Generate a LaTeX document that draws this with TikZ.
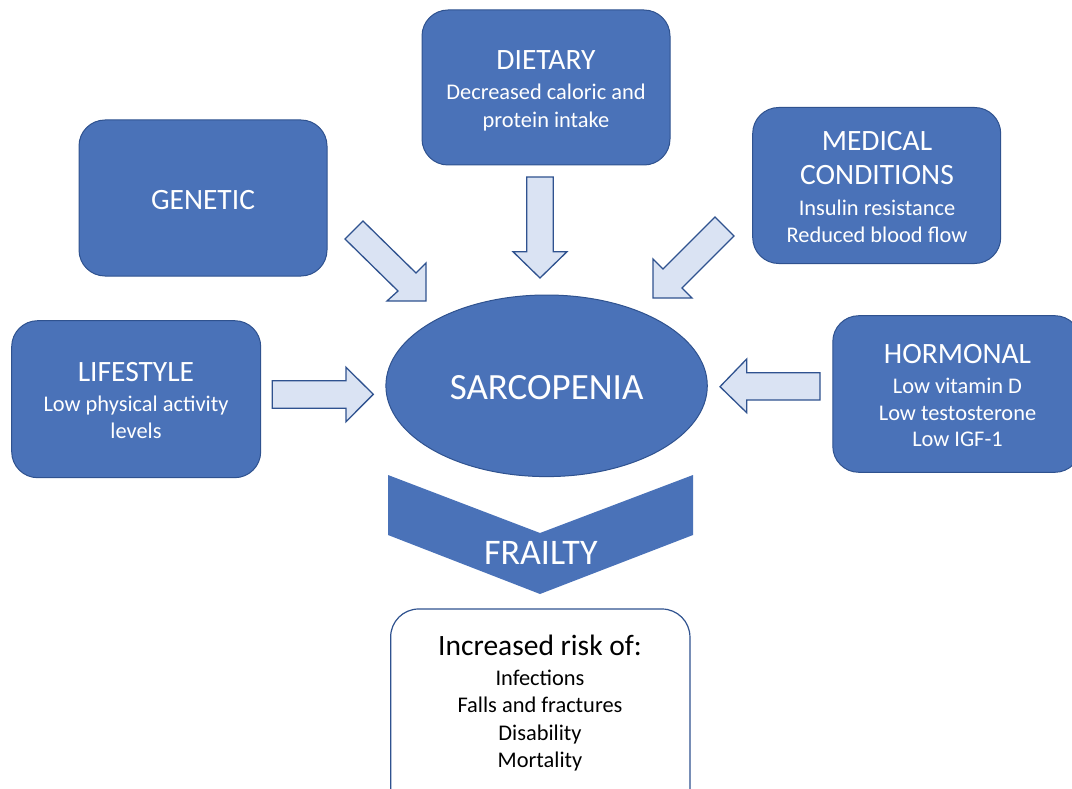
\documentclass[tikz,border=0pt]{standalone}
\usepackage{fontspec}
\setmainfont{Carlito}
\usetikzlibrary{shapes.geometric}
\definecolor{boxblue}{HTML}{4A72B8}
\definecolor{boxline}{HTML}{2F528F}
\definecolor{arrowfill}{HTML}{DAE3F3}
\tikzset{
  factorbox/.style={rectangle, rounded corners=26pt, fill=boxblue, draw=boxline, line width=1pt, inner sep=0pt},
  ttl/.style={anchor=base, inner sep=0pt, text=white, font=\fontsize{29.5}{35}\selectfont},
  subt/.style={anchor=base, inner sep=0pt, text=white, font=\fontsize{22.4}{27}\selectfont},
  blk/.style={anchor=base, inner sep=0pt, text=black, font=\fontsize{22.4}{27}\selectfont},
  blockarrow/.style={fill=arrowfill, draw=boxline, line width=1.3pt, line join=miter},
}
\begin{document}
\begin{tikzpicture}[x=1pt,y=-1pt]
\path[use as bounding box] (0,0) rectangle (1072,789);
\clip (0,0) rectangle (1072,789);

% factor boxes
\node[factorbox, minimum width=248pt, minimum height=155pt] (dietary) at (546,87.5) {};
\node[factorbox, minimum width=248pt, minimum height=156pt] (genetic) at (203,198) {};
\node[factorbox, minimum width=248pt, minimum height=156pt] (medical) at (876.7,185.5) {};
\node[factorbox, minimum width=249pt, minimum height=157pt] (lifestyle) at (136.2,399.2) {};
\node[factorbox, minimum width=248pt, minimum height=156.6pt] (hormonal) at (956.8,394) {};

% central ellipse
\node[ellipse, fill=boxblue, draw=boxline, line width=1pt, inner sep=0pt,
      minimum width=321.4pt, minimum height=181.6pt] (sarc) at (546.6,385.8) {};

% texts
\node[ttl] (dt1) at (546,70) {DIETARY};
\node[subt] (dt2) at (546,100) {Decreased caloric and};
\node[subt] (dt3) at (546,127.7) {protein intake};

\node[ttl] (gt1) at (203,209.3) {GENETIC};

\node[ttl] (mt1) at (877,150.7) {MEDICAL};
\node[ttl] (mt2) at (877,185) {CONDITIONS};
\node[subt] (mt3) at (877,215.7) {Insulin resistance};
\node[subt] (mt4) at (877,242.3) {Reduced blood flow};

\node[ttl] (lt1) at (136,381.7) {LIFESTYLE};
\node[subt] (lt2) at (136,411) {Low physical activity};
\node[subt] (lt3) at (136,438) {levels};

\node[ttl] (ht1) at (957.5,363.3) {HORMONAL};
\node[subt] (ht2) at (957.5,393.3) {Low vitamin D};
\node[subt] (ht3) at (957.5,420.7) {Low testosterone};
\node[subt] (ht4) at (957.5,446.7) {Low IGF-1};

\node[anchor=base, inner sep=0pt, text=white, font=\fontsize{37}{44}\selectfont] (st) at (546.6,399.3) {SARCOPENIA};

% block arrows
\draw[blockarrow] (345,239) -- (363,221) -- (416,273) -- (426,263) -- (426,301) -- (387,301) -- (398,291) -- cycle;
\draw[blockarrow] (526.7,177) -- (553.3,177) -- (553.3,251.7) -- (567,251.7) -- (540,278) -- (513,251.7) -- (526.7,251.7) -- cycle;
\draw[blockarrow] (715,217) -- (734,236) -- (682,288) -- (692,298) -- (653,298) -- (653,259) -- (663,269) -- cycle;
\draw[blockarrow] (272.3,380.7) -- (346,380.7) -- (346,367.3) -- (373.3,394.3) -- (346,421.7) -- (346,408.3) -- (272.3,408.3) -- cycle;
\draw[blockarrow] (820,372.7) -- (746.7,372.7) -- (746.7,359) -- (720,386.7) -- (746.7,412.7) -- (746.7,400) -- (820,400) -- cycle;

% frailty chevron
\fill[boxblue] (388,475) -- (540,533) -- (693,475) -- (693,535) -- (540,594) -- (388,535) -- cycle;
\node[anchor=base, inner sep=0pt, text=white, font=\fontsize{36}{43}\selectfont] (frailty) at (540.8,564) {FRAILTY};

% outcome box
\node[rectangle, rounded corners=28pt, fill=white, draw=boxline, line width=1.2pt, inner sep=0pt,
      minimum width=299.3pt, minimum height=211pt] (risk) at (540.3,714.5) {};
\node[anchor=base, inner sep=0pt, text=black, font=\fontsize{29.5}{35}\selectfont] (rk1) at (540,655.7) {Increased risk of:};
\node[blk] (rk2) at (540,685) {Infections};
\node[blk] (rk3) at (540,712.7) {Falls and fractures};
\node[blk] (rk4) at (540,740) {Disability};
\node[blk] (rk5) at (540,767.3) {Mortality};
\end{tikzpicture}
\end{document}
